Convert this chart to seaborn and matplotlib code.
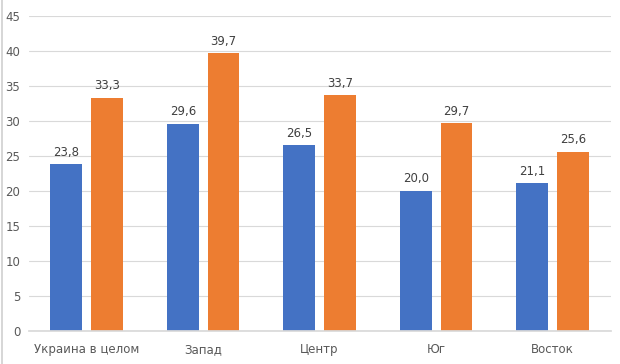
import matplotlib
matplotlib.use("Agg")
import matplotlib.pyplot as plt
import seaborn as sns
import pandas as pd
from matplotlib.lines import Line2D

categories = ["Украина в целом", "Запад", "Центр", "Юг", "Восток"]
series_names = ["Ряд 1", "Ряд 2"]
values_blue = [23.8, 29.6, 26.5, 20.0, 21.1]
values_orange = [33.3, 39.7, 33.7, 29.7, 25.6]
yticks = [0, 5, 10, 15, 20, 25, 30, 35, 40, 45]

df = pd.DataFrame({
    "cat": categories * 2,
    "series": [series_names[0]] * len(categories) + [series_names[1]] * len(categories),
    "val": values_blue + values_orange,
})

sns.set_theme(style="white")
plt.rcParams['font.family'] = ['DejaVu Sans']

fig = plt.figure(figsize=(6.2, 3.64), dpi=100)
ax = fig.add_axes([0.046, 0.091, 0.939, 0.865])

sns.barplot(data=df, x="cat", y="val", hue="series", order=categories,
            palette=["#4472C4", "#ED7D31"], width=0.70, gap=0.22,
            ax=ax, legend=False, saturation=1, linewidth=0, edgecolor="none")

for cont in ax.containers:
    labels = [f"{v:.1f}".replace(".", ",") for v in cont.datavalues]
    ax.bar_label(cont, labels=labels, padding=4, fontsize=8.5, color="#404040")

ax.set_ylim(0, 45)
ax.set_xlim(-0.5, 4.5)
ax.set_yticks(yticks)
ax.set_yticklabels([str(t) for t in yticks])
ax.yaxis.grid(True, color="#d9d9d9", linewidth=0.8)
ax.set_axisbelow(True)
for s in ["top", "right", "left"]:
    ax.spines[s].set_visible(False)
ax.spines["bottom"].set_color("#d9d9d9")
ax.tick_params(axis="both", length=0, labelsize=8.5, colors="#595959", pad=6)
ax.tick_params(axis="x", pad=9)
ax.set_xlabel("")
ax.set_ylabel("")

fig.add_artist(Line2D([0.004, 0.004], [0.0, 1.0], color="#d0d0d0", linewidth=1.2,
                      transform=fig.transFigure))

fig.savefig("out.png", dpi=100)
